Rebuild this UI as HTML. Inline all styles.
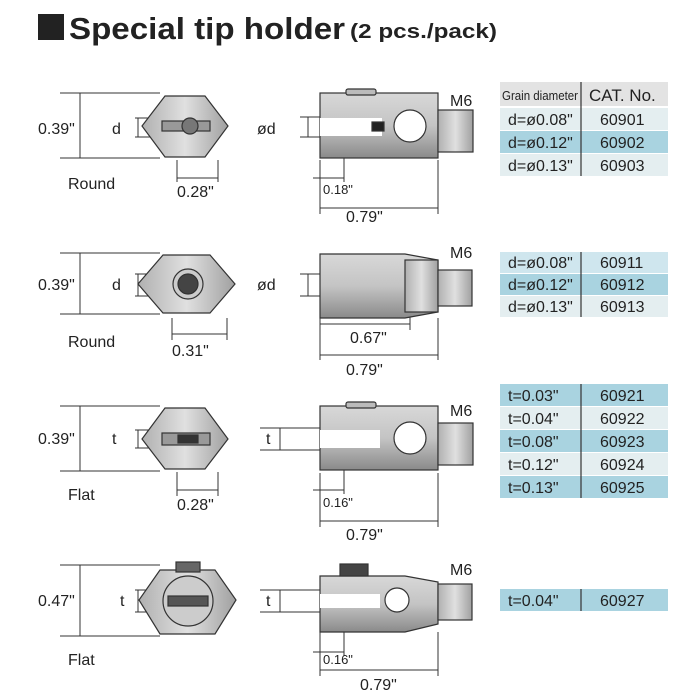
<!DOCTYPE html>
<html><head><style>
body{margin:0;background:#fff}
svg{display:block}
text{font-family:"Liberation Sans",sans-serif;fill:#222}
</style></head><body>
<svg width="700" height="700" viewBox="0 0 700 700" xmlns="http://www.w3.org/2000/svg">
<defs>
<linearGradient id="g" x1="0" y1="0" x2="0" y2="1"><stop offset="0" stop-color="#d8d8d8"/><stop offset=".5" stop-color="#c4c4c4"/><stop offset="1" stop-color="#8a8a8a"/></linearGradient>
<linearGradient id="gh" x1="0" y1="0" x2="1" y2="0"><stop offset="0" stop-color="#b0b0b0"/><stop offset=".5" stop-color="#e0e0e0"/><stop offset="1" stop-color="#a0a0a0"/></linearGradient>
</defs>
<rect x="38" y="14" width="26" height="26" fill="#222"/>
<text x="69" y="39" font-size="31" font-weight="bold" fill="#222" textLength="276" lengthAdjust="spacingAndGlyphs">Special tip holder</text>
<text x="350" y="38" font-size="20" font-weight="bold" textLength="147" lengthAdjust="spacingAndGlyphs">(2 pcs./pack)</text>

<g stroke="#333" stroke-width="1" fill="none">
<path d="M60 93H160M60 158H160M80 93V158M135 118H160M135 137H160M138 118V137"/>
<path d="M177 160V182M218 160V182M177 178H218"/>
<path d="M300 117H320M300 137H320M308 117V137"/>
<path d="M320 160V214M438 160V214M320 208H438M344 150V182M313 178H344"/>
<path d="M60 253H160M60 314H160M80 253V314M135 274H160M135 296H160M138 274V296"/>
<path d="M172 318V340M227 318V340M172 334H227"/>
<path d="M300 274H320M300 296H320M308 274V296"/>
<path d="M320 318V360M438 318V360M320 355H438M410 310V330M320 324H410"/>
<path d="M60 406H160M60 471H160M80 406V471M135 430H160M135 448H160M138 430V448"/>
<path d="M177 472V496M218 472V496M177 490H218"/>
<path d="M260 428H320M260 450H320M280 428V450"/>
<path d="M320 473V527M438 473V527M320 521H438M344 460V494M313 490H344"/>
<path d="M60 565H160M60 636H160M80 565V636M135 590H160M135 612H160M138 590V612"/>
<path d="M260 590H320M260 612H320M280 590V612"/>
<path d="M320 632V676M438 632V676M320 670H438M344 620V656M313 652H344"/>
</g>

<g stroke="#333" stroke-width="1.2">
<path d="M165 96H205L228 126L205 157H165L142 126Z" fill="url(#gh)"/>
<rect x="162" y="121" width="48" height="10" fill="#999"/><circle cx="190" cy="126" r="8" fill="#777"/>
<path d="M163 255H210L235 284L210 313H163L138 284Z" fill="url(#gh)"/>
<circle cx="188" cy="284" r="15" fill="#ccc"/><circle cx="188" cy="284" r="10" fill="#444"/>
<path d="M165 408H205L228 439L205 469H165L142 439Z" fill="url(#gh)"/>
<rect x="162" y="433" width="48" height="12" fill="#999"/><rect x="178" y="435" width="20" height="8" fill="#333"/>
<path d="M160 570H215L236 600L215 634H160L139 600Z" fill="url(#gh)"/>
<circle cx="188" cy="601" r="25" fill="#ccc"/><rect x="168" y="596" width="40" height="10" fill="#555"/>
<rect x="176" y="562" width="24" height="10" fill="#666"/>
</g>

<g stroke="#333" stroke-width="1.2">
<rect x="320" y="93" width="118" height="65" fill="url(#g)"/>
<rect x="346" y="89" width="30" height="6" rx="2" fill="#bbb"/>
<rect x="438" y="110" width="35" height="42" fill="url(#gh)"/>
<circle cx="410" cy="126" r="16" fill="#fff"/>
<rect x="320" y="118" width="62" height="18" fill="#fff" stroke="none"/>
<rect x="372" y="122" width="12" height="9" fill="#222"/>

<path d="M320 254H405L438 260V312L405 318H320Z" fill="url(#g)"/>
<rect x="405" y="260" width="33" height="52" fill="url(#gh)"/>
<rect x="438" y="270" width="34" height="36" fill="url(#gh)"/>

<rect x="320" y="406" width="118" height="64" fill="url(#g)"/>
<rect x="346" y="402" width="30" height="6" rx="2" fill="#bbb"/>
<rect x="438" y="423" width="35" height="42" fill="url(#gh)"/>
<circle cx="410" cy="438" r="16" fill="#fff"/>
<rect x="320" y="430" width="60" height="18" fill="#fff" stroke="none"/>

<path d="M320 576H405L438 582V624L405 632H320Z" fill="url(#g)"/>
<rect x="340" y="564" width="28" height="12" fill="#444"/>
<rect x="438" y="584" width="34" height="36" fill="url(#gh)"/>
<circle cx="397" cy="600" r="12" fill="#fff"/>
<rect x="320" y="594" width="60" height="14" fill="#fff" stroke="none"/>
</g>

<g font-size="16">
<text x="38" y="134">0.39"</text><text x="112" y="134">d</text><text x="68" y="189">Round</text><text x="177" y="197">0.28"</text>
<text x="257" y="134">ød</text><text x="450" y="106">M6</text><text x="346" y="222">0.79"</text>
<text x="38" y="290">0.39"</text><text x="112" y="290">d</text><text x="68" y="347">Round</text><text x="172" y="356">0.31"</text>
<text x="257" y="290">ød</text><text x="450" y="258">M6</text><text x="346" y="375">0.79"</text><text x="350" y="343">0.67"</text>
<text x="38" y="444">0.39"</text><text x="112" y="444">t</text><text x="68" y="500">Flat</text><text x="177" y="510">0.28"</text>
<text x="266" y="444">t</text><text x="450" y="416">M6</text><text x="346" y="540">0.79"</text>
<text x="38" y="606">0.47"</text><text x="120" y="606">t</text><text x="68" y="665">Flat</text>
<text x="266" y="606">t</text><text x="450" y="575">M6</text><text x="360" y="690">0.79"</text>
</g>
<g font-size="13"><text x="323" y="194">0.18"</text><text x="323" y="507">0.16"</text><text x="323" y="664">0.16"</text></g>

<g>
<rect x="500" y="82" width="168" height="24" fill="#e3e3e3"/>
<rect x="500" y="108" width="168" height="22" fill="#e4eef0"/>
<rect x="500" y="131" width="168" height="22" fill="#a9d3e0"/>
<rect x="500" y="154" width="168" height="22" fill="#e4eef0"/>
<rect x="500" y="252" width="168" height="21" fill="#cfe6ee"/>
<rect x="500" y="274" width="168" height="21" fill="#a9d3e0"/>
<rect x="500" y="296" width="168" height="21" fill="#e4eef0"/>
<rect x="500" y="384" width="168" height="22" fill="#a9d3e0"/>
<rect x="500" y="407" width="168" height="22" fill="#e4eef0"/>
<rect x="500" y="430" width="168" height="22" fill="#a9d3e0"/>
<rect x="500" y="453" width="168" height="22" fill="#e4eef0"/>
<rect x="500" y="476" width="168" height="22" fill="#a9d3e0"/>
<rect x="500" y="589" width="168" height="22" fill="#a9d3e0"/>
<g stroke="#333" stroke-width="1.2"><path d="M581 82V176M581 252V317M581 384V498M581 589V611"/></g>
</g>
<g font-size="16">
<text x="502" y="100" font-size="13" textLength="76" lengthAdjust="spacingAndGlyphs">Grain diameter</text><text x="589" y="101" font-size="17">CAT. No.</text>
<text x="508" y="125">d=ø0.08"</text><text x="600" y="125">60901</text>
<text x="508" y="148">d=ø0.12"</text><text x="600" y="148">60902</text>
<text x="508" y="171">d=ø0.13"</text><text x="600" y="171">60903</text>
<text x="508" y="268">d=ø0.08"</text><text x="600" y="268">60911</text>
<text x="508" y="290">d=ø0.12"</text><text x="600" y="290">60912</text>
<text x="508" y="312">d=ø0.13"</text><text x="600" y="312">60913</text>
<text x="508" y="401">t=0.03"</text><text x="600" y="401">60921</text>
<text x="508" y="424">t=0.04"</text><text x="600" y="424">60922</text>
<text x="508" y="447">t=0.08"</text><text x="600" y="447">60923</text>
<text x="508" y="470">t=0.12"</text><text x="600" y="470">60924</text>
<text x="508" y="493">t=0.13"</text><text x="600" y="493">60925</text>
<text x="508" y="606">t=0.04"</text><text x="600" y="606">60927</text>
</g>
</svg>
</body></html>
